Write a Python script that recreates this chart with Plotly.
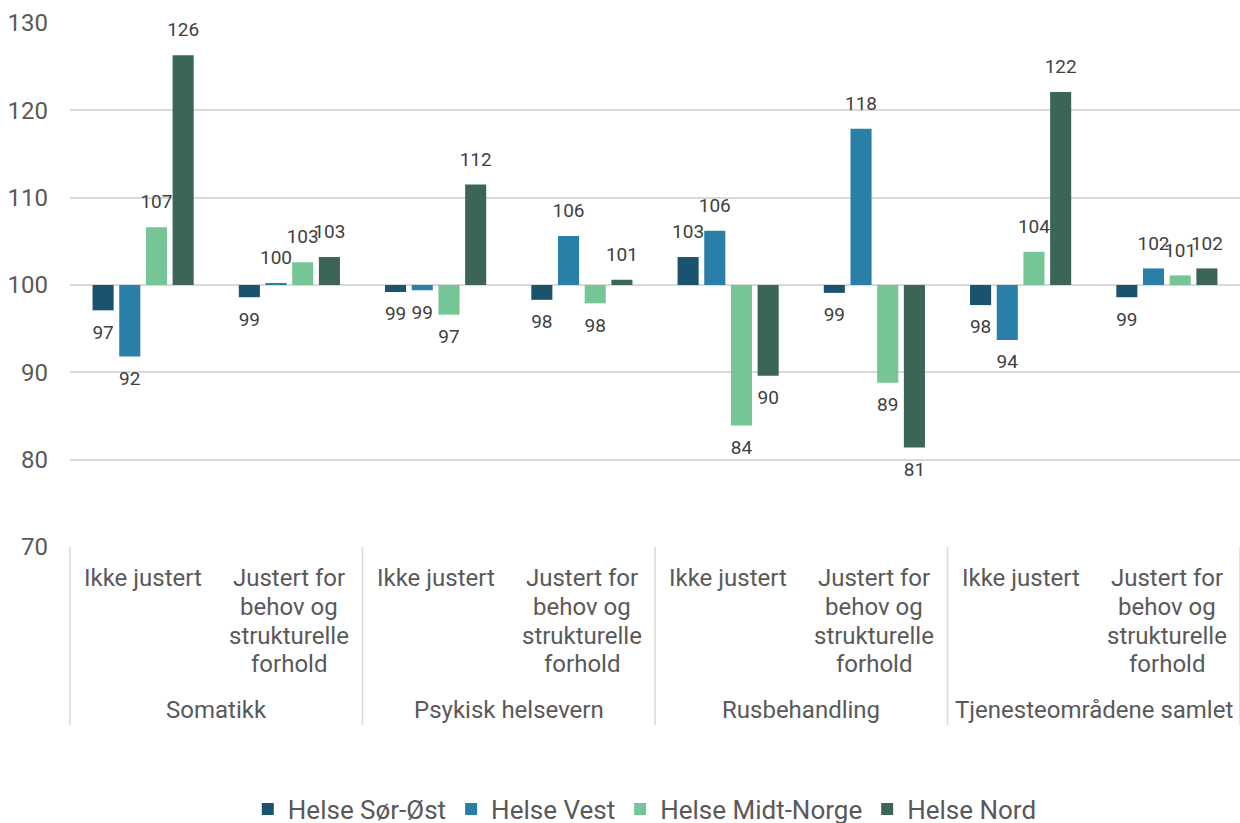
import math
import plotly.graph_objects as go

groups = ["Somatikk", "Psykisk helsevern", "Rusbehandling", "Tjenesteområdene samlet"]
sub_lines = [["Ikke justert"], ["Justert for", "behov og", "strukturelle", "forhold"]]

series = ["Helse Sør-Øst", "Helse Vest", "Helse Midt-Norge", "Helse Nord"]
colors = ["#1B536E", "#2A7FA8", "#76C597", "#3B6657"]

# order: Somatikk (ikke, justert), Psykisk (ikke, justert), Rus (ikke, justert), Samlet (ikke, justert)
sor_ost = [97.1, 98.6, 99.2, 98.3, 103.2, 99.1, 97.7, 98.6]
vest = [91.8, 100.2, 99.4, 105.6, 106.2, 117.9, 93.7, 101.9]
midt = [106.6, 102.6, 96.6, 97.9, 83.9, 88.8, 103.8, 101.1]
nord = [126.3, 103.2, 111.5, 100.6, 89.6, 81.4, 122.1, 101.9]

values = [sor_ost, vest, midt, nord]
baseline = 100

cats = [f"{g}|{i}" for g in groups for i in range(len(sub_lines))]


def fmt(v):
    return str(int(math.floor(v + 0.5)))


fig = go.Figure()
for name, col, vals in zip(series, colors, values):
    fig.add_trace(go.Bar(
        x=cats,
        y=[v - baseline for v in vals],
        base=baseline,
        name=name,
        offsetgroup=name,
        marker=dict(color=col, line=dict(width=0)),
        cliponaxis=False,
    ))
for name, vals in zip(series, values):
    fig.add_trace(go.Scatter(
        x=cats, y=vals,
        mode="markers+text",
        offsetgroup=name,
        marker=dict(size=21, opacity=0),
        text=[fmt(v) for v in vals],
        textposition=["top center" if v >= baseline else "bottom center" for v in vals],
        textfont=dict(size=19, color="#404040", family="Roboto"),
        showlegend=False, hoverinfo="skip", cliponaxis=False,
    ))

# plot area: 547 px (y=70) to 23 px (y=130)
plot_h = 524.0


def py(pix):
    return (547 - pix) / plot_h


annotations = []
line_px = [578, 607, 636, 664]
for gi, g in enumerate(groups):
    for si, lines in enumerate(sub_lines):
        cat = f"{g}|{si}"
        for li, t in enumerate(lines):
            annotations.append(dict(x=cat, xref="x", y=py(line_px[li]), yref="paper",
                                    text=t, showarrow=False, xanchor="center", yanchor="middle",
                                    font=dict(size=24, color="#595959")))
    annotations.append(dict(x=(gi * 2 + 1) / 8, xref="paper", y=py(710), yref="paper",
                            text=g, showarrow=False, xanchor="center", yanchor="middle",
                            font=dict(size=24, color="#595959")))

shapes = []
for k in range(len(groups) + 1):
    shapes.append(dict(type="line", xref="paper", yref="paper", x0=k / 4, x1=k / 4,
                       y0=0, y1=py(725), line=dict(color="#D9D9D9", width=1.5)))

fig.update_layout(
    width=1240, height=823,
    margin=dict(l=70, r=0, t=23, b=276, autoexpand=False),
    paper_bgcolor="white", plot_bgcolor="white",
    font=dict(family="Roboto", size=20, color="#595959"),
    barmode="group", bargap=0.27, bargroupgap=0.21,
    scattermode="group", scattergap=0.27,
    showlegend=True,
    legend=dict(orientation="h", x=0.52, xanchor="center", xref="container",
                y=py(809), yanchor="middle", font=dict(size=26, color="#595959"),
                tracegroupgap=0),
    annotations=annotations,
    shapes=shapes,
    xaxis=dict(type="category", showgrid=False, showline=False, ticks="",
               showticklabels=False, range=[-0.5, 7.5], automargin=False),
    yaxis=dict(range=[70, 130], dtick=10, showgrid=True, gridcolor="#D9D9D9",
               gridwidth=1.5, zeroline=False, showline=False, ticks="",
               ticklabelstandoff=21,
               tickfont=dict(size=24, color="#595959"), automargin=False),
)

fig.write_html("out.html")
